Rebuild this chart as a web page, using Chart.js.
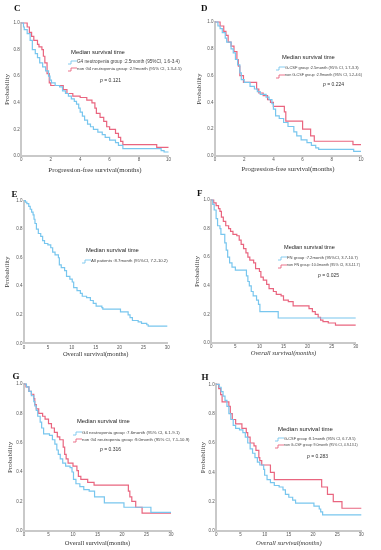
<!DOCTYPE html>
<html><head><meta charset="utf-8">
<script src="https://cdn.jsdelivr.net/npm/chart.js@4.4.1/dist/chart.umd.min.js"></script>
<style>
html,body{margin:0;padding:0;background:#fff;}
#wrap{position:relative;width:381px;height:550px;overflow:hidden;background:#fff;}
canvas{position:absolute;left:0;top:0;}
.t{position:absolute;white-space:nowrap;line-height:1;color:#333;font-family:"Liberation Sans",Arial,sans-serif;}
.lab{font-family:"Liberation Serif",serif;font-weight:bold;font-size:9px;color:#111;}
.pv{font-size:5px;}
.ic{position:absolute;overflow:visible;}
</style></head><body><div id="wrap"></div>
<script>
// ---------- DATA ----------
const pfsTicks = [0, 2, 4, 6, 8, 10];
const osTicks = [0, 5, 10, 15, 20, 25, 30];
const probTicks = [0.0, 0.2, 0.4, 0.6, 0.8, 1.0];

// Panel C: PFS, G4 neutropenia vs non G4
const cG4Time = [0, 0.15, 0.2, 0.4, 0.6, 0.75, 0.95, 1.1, 1.25, 1.45, 1.65, 1.85, 1.95, 2.05, 2.3, 2.6, 2.8, 3.0, 3.2, 3.4, 3.6, 3.75, 3.9, 4.0, 4.15, 4.3, 4.5, 4.7, 4.9, 5.2, 5.5, 5.7, 6.0, 6.4, 6.6, 6.9, 9.5, 9.7, 10];
const cG4Surv = [1, 0.97, 0.95, 0.92, 0.87, 0.8, 0.77, 0.74, 0.7, 0.67, 0.64, 0.6, 0.57, 0.55, 0.53, 0.52, 0.49, 0.47, 0.45, 0.43, 0.41, 0.39, 0.36, 0.33, 0.3, 0.27, 0.24, 0.22, 0.2, 0.18, 0.16, 0.14, 0.12, 0.1, 0.08, 0.055, 0.04, 0.03, 0.03];
const cNonTime = [0, 0.4, 0.55, 0.7, 0.85, 1.1, 1.2, 1.4, 1.5, 1.6, 1.75, 1.9, 2.0, 2.85, 3.1, 3.5, 4.0, 4.45, 4.8, 5.0, 5.1, 5.35, 5.6, 5.8, 6.0, 6.4, 6.6, 6.75, 6.9, 9.2, 10];
const cNonSurv = [1, 0.97, 0.93, 0.9, 0.87, 0.84, 0.82, 0.8, 0.75, 0.7, 0.62, 0.55, 0.53, 0.5, 0.47, 0.45, 0.44, 0.42, 0.4, 0.36, 0.32, 0.29, 0.26, 0.22, 0.2, 0.17, 0.14, 0.11, 0.085, 0.065, 0.065];

// Panel D: PFS, G-CSF vs non G-CSF
const dGcsfTime = [0, 0.2, 0.35, 0.5, 0.7, 0.8, 1.1, 1.25, 1.4, 1.55, 1.7, 1.8, 2.0, 2.4, 2.7, 2.9, 3.1, 3.5, 3.7, 3.9, 4.0, 4.15, 4.4, 4.7, 5.0, 5.4, 5.6, 5.9, 6.3, 6.6, 6.9, 7.1, 9.5, 10];
const dGcsfSurv = [1, 0.97, 0.95, 0.92, 0.88, 0.85, 0.8, 0.77, 0.72, 0.68, 0.62, 0.57, 0.55, 0.52, 0.5, 0.48, 0.46, 0.44, 0.42, 0.39, 0.35, 0.3, 0.28, 0.25, 0.22, 0.18, 0.15, 0.12, 0.1, 0.08, 0.06, 0.05, 0.035, 0.035];
const dNonTime = [0, 0.35, 0.6, 0.75, 0.9, 1.1, 1.3, 1.5, 1.6, 1.7, 1.95, 2.85, 3.0, 3.3, 3.6, 3.8, 4.0, 4.75, 4.85, 6.0, 6.55, 6.8, 9.45, 10];
const dNonSurv = [1, 0.97, 0.93, 0.9, 0.85, 0.82, 0.78, 0.72, 0.67, 0.6, 0.55, 0.5, 0.47, 0.45, 0.42, 0.4, 0.37, 0.33, 0.26, 0.2, 0.15, 0.11, 0.085, 0.085];

// Panel E: OS, all patients
const eAllTime = [0, 0.3, 0.6, 1.0, 1.3, 1.6, 1.9, 2.1, 2.3, 2.6, 3.0, 3.5, 3.9, 4.3, 5.0, 5.6, 6.0, 6.5, 7.2, 7.4, 7.8, 8.5, 8.9, 9.6, 10.1, 10.4, 11.1, 11.8, 12.2, 13.1, 13.9, 14.5, 15.1, 16.3, 16.5, 20.2, 21.8, 22.2, 22.7, 23.9, 24.6, 25.7, 26.0, 30];
const eAllSurv = [1, 0.99, 0.98, 0.96, 0.94, 0.92, 0.9, 0.87, 0.84, 0.8, 0.77, 0.75, 0.72, 0.7, 0.69, 0.67, 0.64, 0.62, 0.6, 0.55, 0.53, 0.51, 0.47, 0.45, 0.43, 0.39, 0.37, 0.35, 0.33, 0.32, 0.3, 0.28, 0.26, 0.25, 0.24, 0.22, 0.2, 0.18, 0.16, 0.15, 0.14, 0.13, 0.12, 0.12];

// Panel F: OS, FN vs non FN
const fFnTime = [0, 0.3, 0.6, 1.0, 1.3, 1.8, 2.0, 2.8, 3.1, 3.4, 3.8, 4.3, 5.0, 7.3, 7.6, 7.9, 8.3, 8.7, 9.4, 9.8, 10.1, 13.9, 30];
const fFnSurv = [1, 0.97, 0.93, 0.87, 0.82, 0.8, 0.76, 0.7, 0.65, 0.6, 0.56, 0.53, 0.51, 0.47, 0.43, 0.4, 0.36, 0.33, 0.3, 0.27, 0.22, 0.175, 0.175];
const fNonTime = [0, 0.5, 1.0, 1.5, 1.8, 2.1, 2.5, 3.0, 3.6, 4.0, 4.5, 5.3, 5.8, 6.2, 6.7, 7.2, 7.6, 8.0, 8.8, 9.2, 10.0, 10.3, 10.8, 11.5, 12.0, 12.9, 13.5, 14.5, 15.0, 16.0, 17.0, 20.3, 21.0, 21.6, 22.2, 22.7, 23.2, 24.3, 25.8, 30];
const fNonSurv = [1, 0.98, 0.96, 0.94, 0.92, 0.88, 0.85, 0.82, 0.8, 0.78, 0.76, 0.75, 0.72, 0.69, 0.66, 0.63, 0.6, 0.58, 0.56, 0.52, 0.5, 0.46, 0.44, 0.41, 0.38, 0.36, 0.34, 0.33, 0.3, 0.29, 0.26, 0.24, 0.22, 0.2, 0.18, 0.16, 0.15, 0.14, 0.125, 0.125];

// Panel G: OS, G4 neutropenia vs non G4
const gG4Time = [0, 0.5, 1.0, 1.5, 2.0, 2.2, 2.5, 2.8, 3.3, 3.6, 4.0, 5.2, 5.8, 6.3, 6.7, 7.0, 7.4, 7.9, 8.5, 9.4, 9.8, 10.1, 10.6, 11.4, 12.2, 13.3, 14.4, 16.4, 20.4, 25.9, 30];
const gG4Surv = [1, 0.98, 0.95, 0.92, 0.88, 0.85, 0.82, 0.78, 0.74, 0.7, 0.66, 0.65, 0.62, 0.59, 0.55, 0.52, 0.49, 0.46, 0.44, 0.43, 0.4, 0.35, 0.32, 0.3, 0.28, 0.27, 0.23, 0.19, 0.16, 0.125, 0.125];
const gNonTime = [0, 0.4, 1.0, 1.5, 2.0, 2.2, 2.5, 3.0, 3.8, 4.3, 5.0, 5.6, 6.2, 6.8, 7.3, 8.0, 8.3, 8.6, 9.0, 10.0, 10.8, 11.1, 11.6, 13.0, 14.3, 21.3, 21.6, 22.0, 22.8, 24.1, 30];
const gNonSurv = [1, 0.98, 0.95, 0.93, 0.9, 0.86, 0.83, 0.8, 0.78, 0.76, 0.73, 0.7, 0.67, 0.64, 0.62, 0.57, 0.52, 0.49, 0.46, 0.44, 0.41, 0.37, 0.35, 0.33, 0.31, 0.27, 0.23, 0.2, 0.16, 0.12, 0.12];

// Panel H: OS, G-CSF vs non G-CSF
const hGcsfTime = [0, 0.6, 1.0, 1.4, 1.8, 2.2, 2.6, 3.0, 3.5, 4.0, 4.8, 5.5, 6.0, 6.5, 7.0, 7.5, 8.0, 8.5, 9.0, 9.8, 10.0, 10.5, 11.2, 12.0, 13.0, 13.8, 14.3, 15.0, 15.8, 16.4, 20.2, 21.3, 21.6, 22.0, 30];
const hGcsfSurv = [1, 0.98, 0.95, 0.92, 0.89, 0.85, 0.8, 0.76, 0.72, 0.7, 0.69, 0.67, 0.64, 0.6, 0.56, 0.53, 0.5, 0.47, 0.45, 0.42, 0.38, 0.35, 0.33, 0.31, 0.3, 0.28, 0.25, 0.23, 0.21, 0.19, 0.17, 0.15, 0.13, 0.11, 0.11];
const hNonTime = [0, 0.5, 0.9, 1.2, 2.6, 2.9, 3.3, 4.0, 5.3, 6.2, 6.5, 7.0, 7.8, 8.2, 8.8, 9.0, 9.4, 11.2, 12.0, 21.8, 23.0, 24.2, 26.0, 30];
const hNonSurv = [1, 0.97, 0.93, 0.88, 0.85, 0.8, 0.76, 0.73, 0.7, 0.67, 0.64, 0.6, 0.58, 0.55, 0.5, 0.48, 0.45, 0.4, 0.35, 0.3, 0.25, 0.2, 0.155, 0.155];

// Labels
const headText = "Median survival time";
const cLabels = ["G4 neutropenia group :2.5month (95%CI, 1.6-3.4)", "non G4 neutropenia group :2.9month (95% CI, 1.3-4.5)"];
const dLabels = ["G-CSF group :2.5month (95% CI, 1.7-3.3)", "non G-CSF group :2.9month (95% CI, 1.2-4.6)"];
const eLabels = ["All patients :8.7month (95%CI, 7.2-10.2)"];
const fLabels = ["FN group :7.2month (95%CI, 3.7-10.7)", "non FN group :10.0month (95% CI, 8.3-11.7)"];
const gLabels = ["G4 neutropenia group :7.6month (95% CI, 6.1-9.1)", "non G4 neutropenia group :9.0month (95% CI, 7.1-10.9)"];
const hLabels = ["G-CSF group :8.1month (95% CI, 6.7-9.5)", "non G-CSF group :9.0month (95% CI, 4.9-13.1)"];
const pValues = {C: "0.121", D: "0.224", F: "0.025", G: "0.316", H: "0.283"};
const pfsTitle = "Progression-free survival(months)";
const osTitle = "Overall survival(months)";
const yTitle = "Probability";

// ---------- RENDER ----------
const BLUE = '#78c6ee', PINK = '#e9657f';
const wrap = document.getElementById('wrap');
const mctx = document.createElement('canvas').getContext('2d');
function fitSize(text, family, target) {
  mctx.font = '10px ' + family;
  return 10 * target / mctx.measureText(text).width;
}
function pts(t, s) { return t.map((x, i) => ({x: x, y: s[i]})); }

function makePanel(p) {
  const c = document.createElement('canvas');
  c.width = 381; c.height = 550;
  wrap.appendChild(c);
  const xs = p.xfs, ys = 7;
  const lhx = xs * 1.2, lhy = ys * 1.2;
  const padL = p.yt - lhy / 2, padB = 550 - (p.xt + lhx / 2);
  const yw = p.L - padL, xh = p.xt + lhx / 2 - p.B;
  new Chart(c, {
    type: 'line',
    data: {datasets: p.sets.map(s => ({
      data: pts(s.t, s.s), borderColor: s.c, borderWidth: 1.2, stepped: true,
      pointRadius: 0, fill: false, clip: false, tension: 0
    }))},
    options: {
      responsive: false, animation: false, devicePixelRatio: 1,
      layout: {padding: {left: padL, top: p.T, right: 381 - p.R, bottom: padB}},
      plugins: {legend: {display: false}, tooltip: {enabled: false}},
      events: [],
      scales: {
        x: {
          type: 'linear', min: 0, max: p.ticks[p.ticks.length - 1],
          afterBuildTicks: s => { s.ticks = p.ticks.map(v => ({value: v})); },
          ticks: {font: {size: 4.5, family: 'Liberation Sans'}, color: '#555', padding: 1.5, maxRotation: 0, autoSkip: false},
          grid: {display: false, drawTicks: false},
          border: {display: true, color: '#c9c9c9', width: 2},
          title: {display: true, text: p.xtitle, font: {family: 'Liberation Serif', size: xs, style: p.italic ? 'italic' : 'normal'}, color: '#333', padding: 0},
          afterFit: s => { s.height = xh; }
        },
        y: {
          min: 0, max: 1,
          afterBuildTicks: s => { s.ticks = probTicks.map(v => ({value: v})); },
          ticks: {font: {size: 4.5, family: 'Liberation Sans'}, color: '#555', padding: 1.5, callback: v => Number(v).toFixed(1)},
          grid: {display: false, drawTicks: false},
          border: {display: true, color: '#c9c9c9', width: 2},
          title: {display: true, text: yTitle, font: {family: 'Liberation Serif', size: ys}, color: '#333', padding: 0},
          afterFit: s => { s.width = yw; }
        }
      }
    }
  });
}

function addText(txt, x, y, size, cls, extra) {
  const d = document.createElement('div');
  d.className = 't ' + (cls || '');
  d.style.left = x + 'px';
  d.style.top = (y - size / 2) + 'px';
  d.style.fontSize = size + 'px';
  if (extra) Object.assign(d.style, extra);
  d.textContent = txt;
  wrap.appendChild(d);
  return d;
}
function addIcon(x, y, color) {
  const ns = 'http://www.w3.org/2000/svg';
  const svg = document.createElementNS(ns, 'svg');
  svg.setAttribute('class', 'ic');
  svg.setAttribute('width', '9'); svg.setAttribute('height', '5');
  svg.style.left = x + 'px'; svg.style.top = (y - 2.5) + 'px';
  const pl = document.createElementNS(ns, 'polyline');
  pl.setAttribute('points', '0,4 3,4 3,1 9,1');
  pl.setAttribute('fill', 'none'); pl.setAttribute('stroke', color); pl.setAttribute('stroke-width', '0.9');
  svg.appendChild(pl);
  wrap.appendChild(svg);
}
function addPanelLetter(ch, x, y) {
  addText(ch, x, y, 9, 'lab');
}
function addLegend(L) {
  const sans = '"Liberation Sans"';
  addText(headText, L.hx, L.hy, fitSize(headText, sans, L.hw), '', {color: '#222'});
  L.items.forEach((it, i) => {
    addIcon(L.ix, it.y, it.c);
    addText(it.txt, L.tx, it.y, fitSize(it.txt, sans, it.w), '', {color: '#444'});
  });
  if (L.p) {
    const d = addText('', L.p.x, L.p.y, 5, 'pv');
    d.innerHTML = '<i>p</i> = ' + L.p.v;
  }
}

// Panels
makePanel({L: 21.3, T: 23, R: 168.5, B: 156, xt: 170, yt: 7, xfs: 6.8, xtitle: pfsTitle, ticks: pfsTicks,
  sets: [{t: cG4Time, s: cG4Surv, c: BLUE}, {t: cNonTime, s: cNonSurv, c: PINK}]});
makePanel({L: 215, T: 22, R: 361, B: 156, xt: 169, yt: 199.3, xfs: 6.8, xtitle: pfsTitle, ticks: pfsTicks,
  sets: [{t: dGcsfTime, s: dGcsfSurv, c: BLUE}, {t: dNonTime, s: dNonSurv, c: PINK}]});
makePanel({L: 24, T: 200.7, R: 167.3, B: 343.3, xt: 354, yt: 7.5, xfs: 6.5, xtitle: osTitle, ticks: osTicks,
  sets: [{t: eAllTime, s: eAllSurv, c: BLUE}]});
makePanel({L: 211.3, T: 200, R: 355.7, B: 343, xt: 353, yt: 197.3, xfs: 6.5, italic: true, xtitle: osTitle, ticks: osTicks,
  sets: [{t: fFnTime, s: fFnSurv, c: BLUE}, {t: fNonTime, s: fNonSurv, c: PINK}]});
makePanel({L: 24, T: 384, R: 171, B: 530.7, xt: 543, yt: 10, xfs: 6.5, xtitle: osTitle, ticks: osTicks,
  sets: [{t: gG4Time, s: gG4Surv, c: BLUE}, {t: gNonTime, s: gNonSurv, c: PINK}]});
makePanel({L: 216.3, T: 384.3, R: 361.3, B: 531, xt: 543.5, yt: 203.3, xfs: 6.5, italic: true, xtitle: osTitle, ticks: osTicks,
  sets: [{t: hGcsfTime, s: hGcsfSurv, c: BLUE}, {t: hNonTime, s: hNonSurv, c: PINK}]});

// Letters
addPanelLetter('C', 14, 8.5);
addPanelLetter('D', 201, 8.5);
addPanelLetter('E', 11.5, 194);
addPanelLetter('F', 197, 193);
addPanelLetter('G', 12.5, 376);
addPanelLetter('H', 201.5, 377);

// Legends
addLegend({hx: 71, hy: 53, hw: 54, ix: 68, tx: 77,
  items: [{y: 62.7, c: BLUE, txt: cLabels[0], w: 103}, {y: 69.3, c: PINK, txt: cLabels[1], w: 105}],
  p: {x: 100, y: 80, v: pValues.C}});
addLegend({hx: 282, hy: 58, hw: 53, ix: 276, tx: 285,
  items: [{y: 68, c: BLUE, txt: dLabels[0], w: 74}, {y: 76, c: PINK, txt: dLabels[1], w: 77}],
  p: {x: 323, y: 84, v: pValues.D}});
addLegend({hx: 86, hy: 250.7, hw: 53, ix: 82, tx: 91,
  items: [{y: 261, c: BLUE, txt: eLabels[0], w: 77}]});
addLegend({hx: 284, hy: 248, hw: 51, ix: 278, tx: 287,
  items: [{y: 258, c: BLUE, txt: fLabels[0], w: 71}, {y: 266, c: PINK, txt: fLabels[1], w: 73}],
  p: {x: 318, y: 275, v: pValues.F}});
addLegend({hx: 77, hy: 422, hw: 53, ix: 73, tx: 82,
  items: [{y: 433, c: BLUE, txt: gLabels[0], w: 98}, {y: 440, c: PINK, txt: gLabels[1], w: 108}],
  p: {x: 100, y: 449, v: pValues.G}});
addLegend({hx: 278, hy: 429, hw: 55, ix: 275, tx: 284,
  items: [{y: 439, c: BLUE, txt: hLabels[0], w: 72}, {y: 446, c: PINK, txt: hLabels[1], w: 74}],
  p: {x: 307, y: 456, v: pValues.H}});
</script>
</body></html>
